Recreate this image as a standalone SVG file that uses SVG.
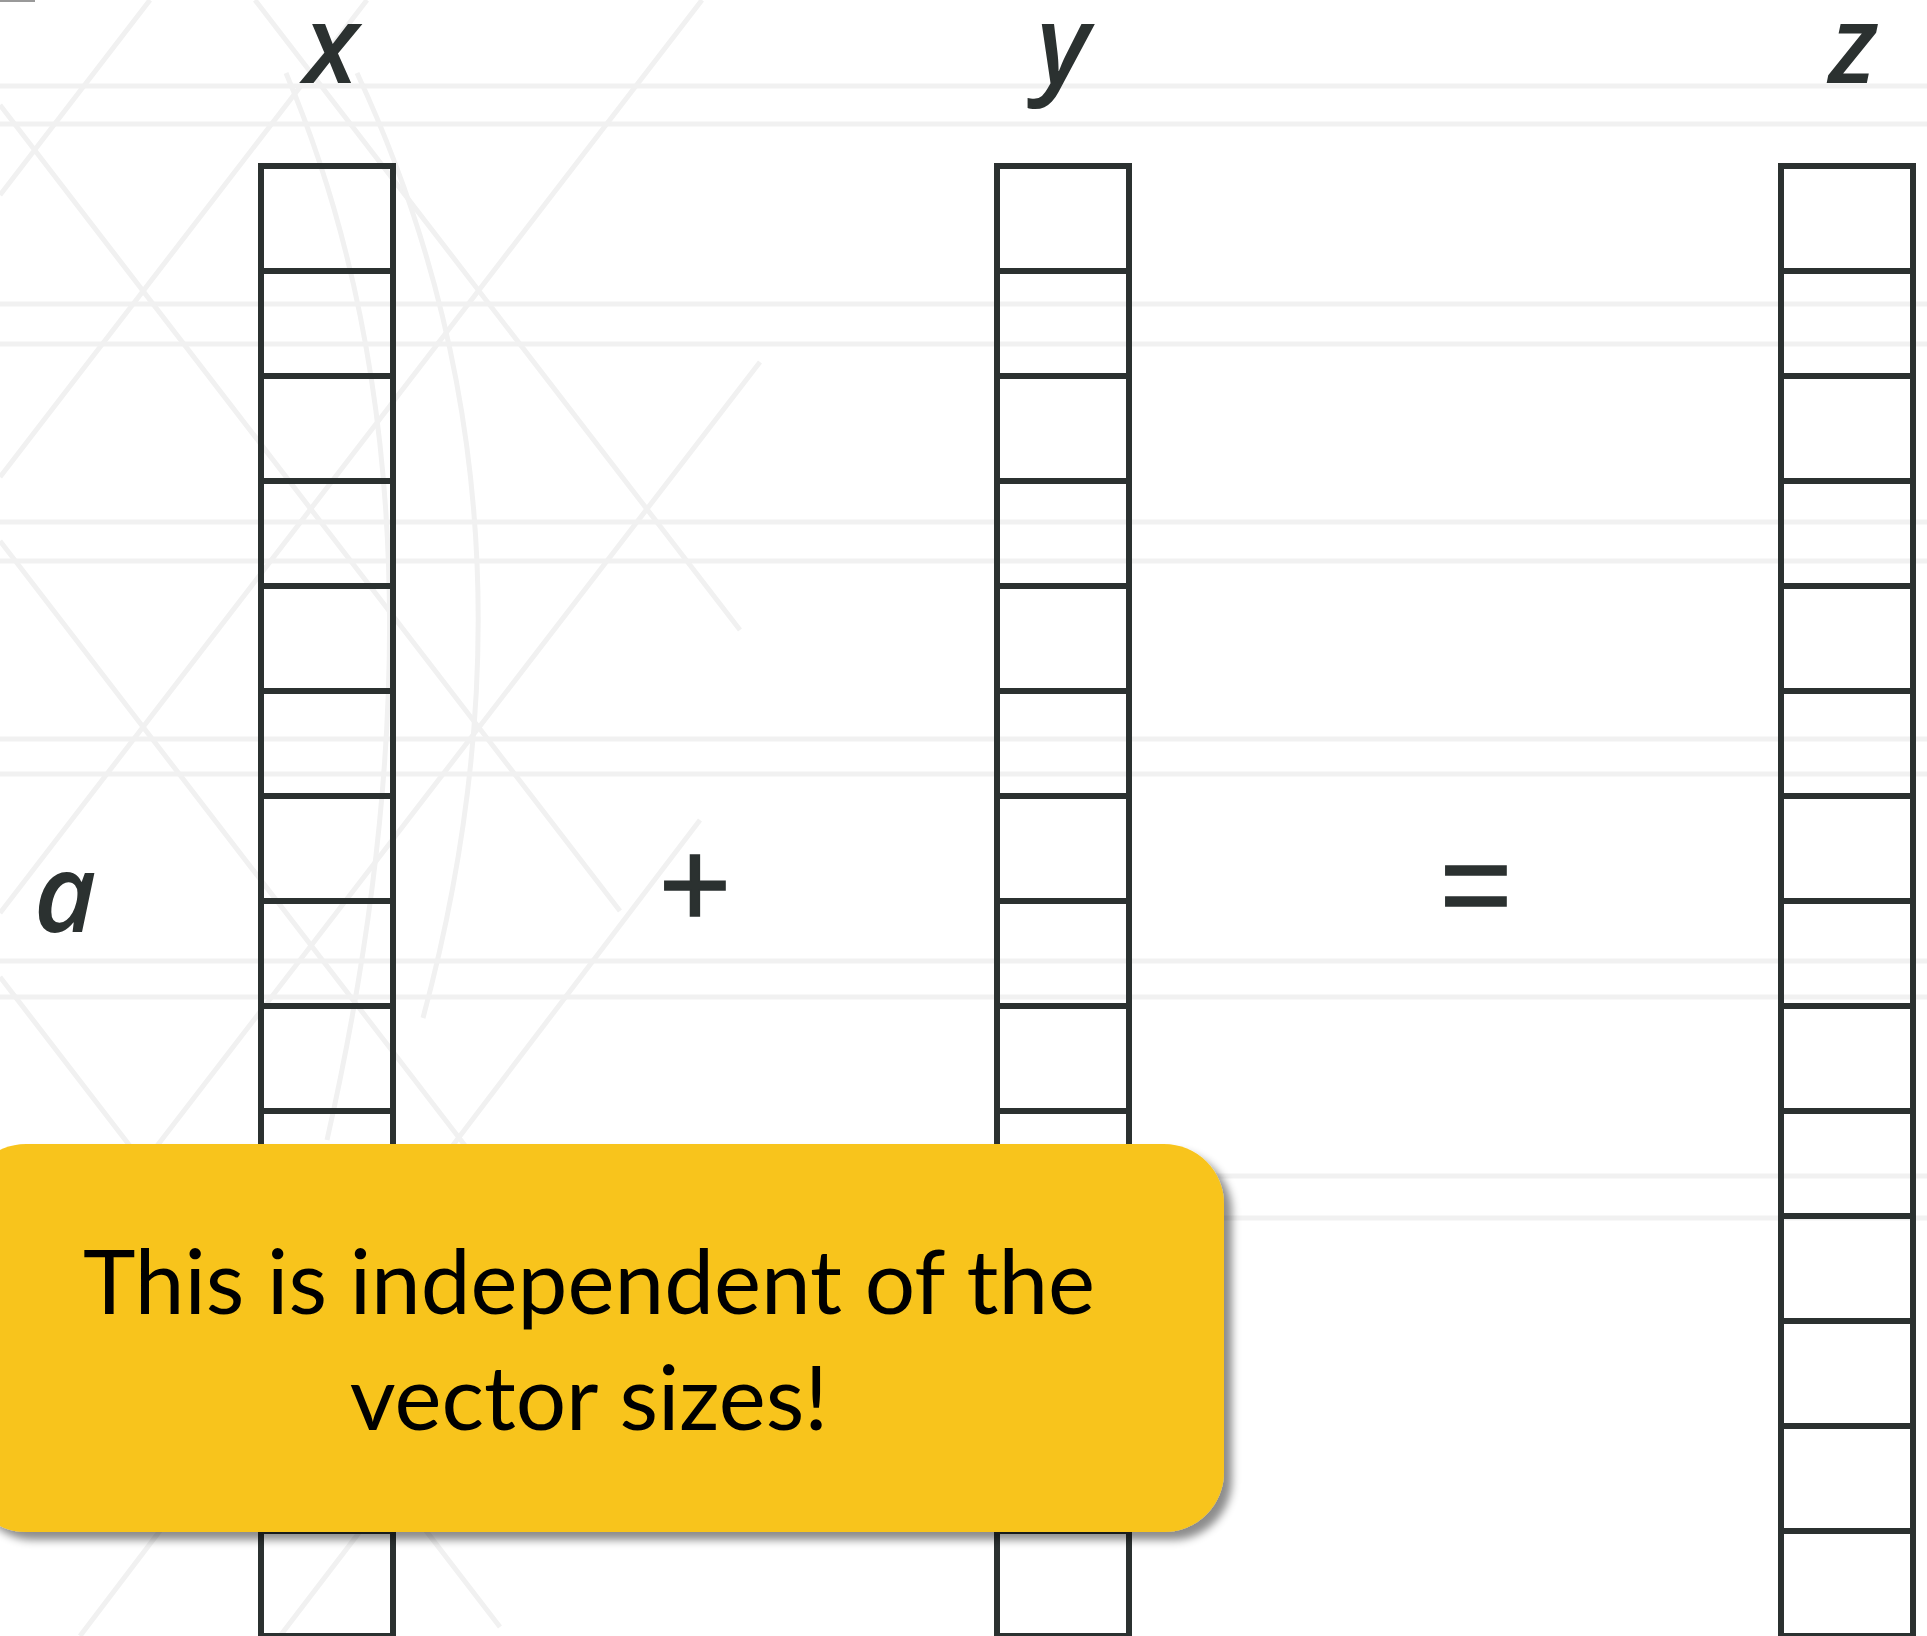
<svg xmlns="http://www.w3.org/2000/svg" width="1927" height="1636" viewBox="0 0 1927 1636">
  <defs>
    <style>
      .bg { fill: none; stroke: #f1f1f1; stroke-width: 5; }
      .cell { fill: none; stroke: #2b3130; stroke-width: 6; }
      .lbl { font-family: "Open Sans", "Noto Sans", sans-serif; font-style: italic; font-weight: 600; font-size: 108px; fill: #2b3130; text-anchor: middle; }
      .op { font-family: "Liberation Sans", Arial, sans-serif; font-size: 124px; fill: #2b3130; stroke: #2b3130; stroke-width: 1.5; text-anchor: middle; }
      .note { font-family: Lato, "Open Sans", sans-serif; font-size: 89px; fill: #000; text-anchor: middle; }
    </style>
    <filter id="shadow" x="-5%" y="-10%" width="115%" height="130%">
      <feDropShadow dx="8" dy="8" stdDeviation="4" flood-color="#000" flood-opacity="0.45"/>
    </filter>
  </defs>

  <rect x="0" y="0" width="1927" height="1636" fill="#fff"/>

  <g id="background">
    <rect x="0" y="0" width="35" height="2" fill="#999"/>
    <path class="bg" d="M0 86H1927M0 124H1927M0 304H1927M0 344H1927M0 522H1927M0 561H1927M0 739H1927M0 774H1927M0 961H1927M0 997H1927M0 1176H1927M0 1218H1927"/>
    <path class="bg" d="M0 105L620 911M0 541L560 1269M255 0L740 630M0 977L500 1627M150 0L0 195"/>
    <path class="bg" d="M367 0L0 477M702 0L0 913M760 362L0 1350M700 820L80 1636M560 1270L280 1636"/>
    <path class="bg" d="M286 73Q470 509 327 1140M357 73Q560 509 423 1018"/>
  </g>

  <g id="label-x"><text class="lbl" x="331" y="83">x</text></g>
  <g id="label-y"><text class="lbl" x="1063" y="83">y</text></g>
  <g id="label-z"><text class="lbl" x="1853" y="83">z</text></g>
  <g id="label-a"><text class="lbl" x="65" y="932">a</text></g>
  <g id="op-plus"><text class="op" x="695" y="927">+</text></g>
  <g id="op-equals"><text class="op" x="1476" y="927">=</text></g>

  <g id="vector-x">
    <rect class="cell" x="261" y="166" width="132" height="1470"/>
    <path class="cell" d="M261 271H393M261 376H393M261 481H393M261 586H393M261 691H393M261 796H393M261 901H393M261 1006H393M261 1111H393M261 1216H393M261 1321H393M261 1426H393M261 1531H393"/>
  </g>
  <g id="vector-y">
    <rect class="cell" x="997" y="166" width="132" height="1470"/>
    <path class="cell" d="M997 271H1129M997 376H1129M997 481H1129M997 586H1129M997 691H1129M997 796H1129M997 901H1129M997 1006H1129M997 1111H1129M997 1216H1129M997 1321H1129M997 1426H1129M997 1531H1129"/>
  </g>
  <g id="vector-z">
    <rect class="cell" x="1781" y="166" width="132" height="1470"/>
    <path class="cell" d="M1781 271H1913M1781 376H1913M1781 481H1913M1781 586H1913M1781 691H1913M1781 796H1913M1781 901H1913M1781 1006H1913M1781 1111H1913M1781 1216H1913M1781 1321H1913M1781 1426H1913M1781 1531H1913"/>
  </g>

  <g id="connectors"></g>

  <g id="note">
    <rect x="-34" y="1144" width="1258" height="388" rx="60" ry="60" fill="#f8c41c" filter="url(#shadow)"/>
    <text class="note" x="589" y="1314">This is independent of the</text>
    <text class="note" x="589" y="1430">vector sizes!</text>
  </g>
</svg>
